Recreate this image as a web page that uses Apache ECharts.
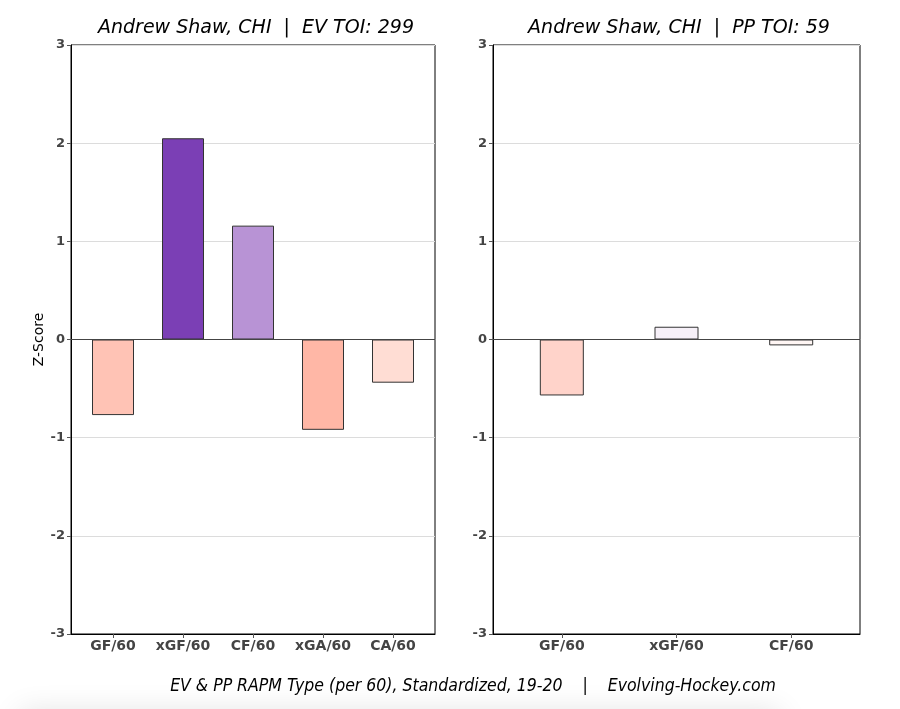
<!DOCTYPE html>
<html><head><meta charset="utf-8">
<script src="https://cdn.jsdelivr.net/npm/echarts@6/dist/echarts.min.js"></script>
<style>html,body{margin:0;padding:0;background:#fff}#c{width:900px;height:709px}</style>
</head><body><div id="c"></div>
<script>
const evCategories = ['GF/60','xGF/60','CF/60','xGA/60','CA/60'];
const evValues = [-0.77, 2.05, 1.16, -0.92, -0.44];
const evColors = ['#FFC3B5','#7B3FB5','#B893D5','#FFB7A6','#FFDDD4'];
const ppCategories = ['GF/60','xGF/60','CF/60'];
const ppValues = [-0.57, 0.13, -0.06];
const ppColors = ['#FFD3CA','#F6F0F8','#FFF6F4'];
const yTicks = [-3,-2,-1,0,1,2,3];
const titles = ['Andrew Shaw, CHI  |  EV TOI: 299','Andrew Shaw, CHI  |  PP TOI: 59'];
const caption = 'EV & PP RAPM Type (per 60), Standardized, 19-20    |    Evolving-Hockey.com';

const chart = echarts.init(document.getElementById('c'));
const font = 'DejaVu Sans';
function yAxis(idx, name){
  return {gridIndex: idx, type:'value', min: yTicks[0], max: yTicks[yTicks.length-1], interval:1,
    name: name, nameLocation:'middle', nameGap: 22, nameRotate: 90,
    nameTextStyle:{fontFamily:font, fontSize:14, color:'#000'},
    axisLine:{show:true, onZero:false, lineStyle:{color:'#000'}},
    axisTick:{show:true, length:4, lineStyle:{color:'#555'}},
    axisLabel:{fontFamily:font, fontWeight:'bold', fontSize:13, color:'#444', margin:6},
    splitLine:{show:true, lineStyle:{color:'#dcdcdc'}}};
}
function xAxis(idx, cats){
  const idxs = cats.map((c,i)=>i);
  return {gridIndex: idx, type:'value', min:-0.6, max: cats.length - 0.4,
    axisLine:{show:true, onZero:false, lineStyle:{color:'#000'}},
    axisTick:{show:true, length:4, customValues: idxs, lineStyle:{color:'#555'}},
    axisLabel:{fontFamily:font, fontWeight:'bold', fontSize:14, color:'#444', margin:5,
      customValues: idxs, formatter: v => cats[Math.round(v)]},
    splitLine:{show:false}};
}
function series(idx, vals, cols, bw){
  return {type:'bar', xAxisIndex: idx, yAxisIndex: idx, barWidth: bw,
    data: vals.map((v,i)=>({value:[i, v], itemStyle:{color:cols[i]}})),
    itemStyle:{borderColor:'#333', borderWidth:1},
    markLine:{silent:true, symbol:'none', label:{show:false}, lineStyle:{color:'#444', width:1.2, type:'solid'}, data:[{yAxis:0}]}
  };
}
chart.setOption({
  animation:false,
  graphic:[{type:'rect', left:20, top:716, silent:true, z:-10,
    shape:{width:760, height:30},
    style:{fill:'#ddd', shadowBlur:30, shadowColor:'rgba(0,0,0,0.12)', shadowOffsetY:-4}}],
  title:[
    {text:titles[0], left:251, top:14, textAlign:'center', textStyle:{fontFamily:font, fontStyle:'italic', fontWeight:'normal', fontSize:19, color:'#000'}},
    {text:titles[1], left:674, top:14, textAlign:'center', textStyle:{fontFamily:font, fontStyle:'italic', fontWeight:'normal', fontSize:19, color:'#000'}},
    {text:caption, left:468, top:672, textAlign:'center', textStyle:{fontFamily:'DejaVu Sans Condensed, DejaVu Sans', fontStyle:'italic', fontWeight:'normal', fontSize:17.5, color:'#000'}}
  ],
  grid:[
    {left:71, top:45, width:364, height:589, show:true, borderColor:'#000', borderWidth:1},
    {left:493, top:45, width:367, height:589, show:true, borderColor:'#000', borderWidth:1}
  ],
  xAxis:[xAxis(0, evCategories), xAxis(1, ppCategories)],
  yAxis:[yAxis(0,'Z-Score'), yAxis(1,'')],
  series:[series(0, evValues, evColors, 42), series(1, ppValues, ppColors, 44)]
});
</script></body></html>
